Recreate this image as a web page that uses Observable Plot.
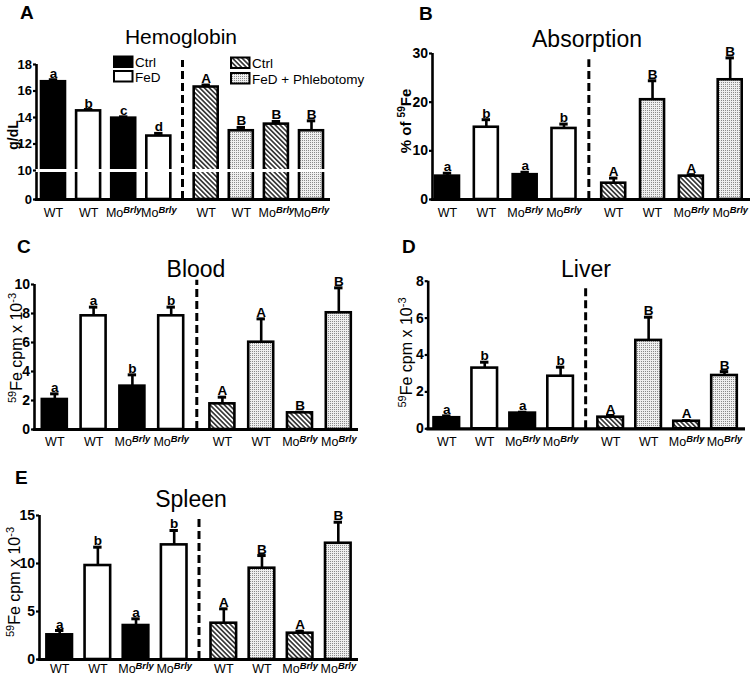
<!DOCTYPE html>
<html><head><meta charset="utf-8">
<script src="https://cdn.jsdelivr.net/npm/d3@7"></script>
<script src="https://cdn.jsdelivr.net/npm/@observablehq/plot@0.6"></script>
<style>
body{margin:0;background:#fff;}
#fig{position:relative;width:754px;height:681px;overflow:hidden;background:#fff;}
.panel{position:absolute;}
.panel svg{overflow:visible;}
</style></head><body>
<svg width="0" height="0" style="position:absolute">
<defs>
<pattern id="hatch" width="3.4" height="3.4" patternUnits="userSpaceOnUse" patternTransform="rotate(-45)">
<rect width="3.4" height="3.4" fill="#ffffff"/>
<rect width="1.7" height="3.4" fill="#3a3a3a"/>
</pattern>
<pattern id="dots" width="2" height="2" patternUnits="userSpaceOnUse">
<rect width="2" height="2" fill="#efefef"/>
<rect width="1" height="1" fill="#8a8a8a"/>
</pattern>
</defs>
</svg>
<div id="fig"></div>
<script>
// ---------- data ----------
const genotype   = ["WT","WT","MoBrly","MoBrly","WT","WT","MoBrly","MoBrly"];
const treatment  = ["Ctrl","FeD","Ctrl","FeD","Ctrl","FeD + Phlebotomy","Ctrl","FeD + Phlebotomy"];
const experiment = [1,1,1,1,2,2,2,2];

const hemoglobinMean    = [16.7, 14.5, 13.95, 12.6, 16.3, 13.0, 13.5, 13.0];
const hemoglobinSem     = [0.15, 0.1, 0.1, 0.2, 0.15, 0.25, 0.2, 0.75];
const hemoglobinLetters = ["a","b","c","d","A","B","B","B"];
const hemoglobinTicks   = [0,10,12,14,16,18];

const absorptionMean    = [4.8, 14.85, 5.1, 14.6, 3.35, 20.5, 4.8, 24.6];
const absorptionSem     = [0.6, 1.55, 0.5, 0.9, 1.05, 3.9, 0.3, 4.5];
const absorptionLetters = ["a","b","a","b","A","B","A","B"];
const absorptionTicks   = [0,10,20,30];

const bloodMean    = [2.07, 7.84, 2.99, 7.84, 1.77, 6.02, 1.15, 8.05];
const bloodSem     = [0.39, 0.6, 0.78, 0.6, 0.46, 1.61, 0.05, 1.72];
const bloodLetters = ["a","a","b","b","A","A","B","B"];
const bloodTicks   = [0,2,4,6,8,10];

const liverMean    = [0.6, 3.29, 0.85, 2.85, 0.63, 4.79, 0.41, 2.89];
const liverSem     = [0.1, 0.32, 0.05, 0.49, 0.09, 1.26, 0.04, 0.21];
const liverLetters = ["a","b","a","b","A","B","A","B"];
const liverTicks   = [0,2,4,6,8];

const spleenMean    = [2.57, 9.79, 3.54, 11.94, 3.78, 9.51, 2.74, 12.11];
const spleenSem     = [0.45, 1.91, 0.7, 1.5, 1.5, 1.32, 0.21, 2.19];
const spleenLetters = ["a","b","a","b","A","B","A","B"];
const spleenTicks   = [0,5,10,15];

const legendLeft  = ["Ctrl","FeD"];
const legendRight = ["Ctrl","FeD + Phlebotomy"];

// ---------- layout ----------
const FONT = '"Liberation Sans", Arial, Helvetica, sans-serif';
const cpmLabel = [["59",true],["Fe cpm x 10",false],["-3",true]];
// broken axis for panel A: 0-10 compressed, 10-18 full
const breakScale = 2.9 / 13.25;
const brokenAxis = v => v <= 10 ? v * breakScale : 10 * breakScale + (v - 10);

const panels = [
  {id:"A", title:"Hemoglobin", titleSize:21, mean:hemoglobinMean, sem:hemoglobinSem, letters:hemoglobinLetters, ticks:hemoglobinTicks,
   yLabel:[["g/dL",false]], ylBold:true, ylSize:14, ylX:18, ylY:135,
   left:0, top:0, width:377, height:225, axisL:36, axisR:330, c0:53, c7:311, gap:0.35, halfPx:12,
   yMin:0, yMax:18, yPx:[199,64], transform:brokenAxis, dashTop:18.3, breakAt:10, tickFont:13, xPad:9,
   letterX:20, letterY:18.5, titleX:181, titleY:44},
  {id:"B", title:"Absorption", titleSize:23, mean:absorptionMean, sem:absorptionSem, letters:absorptionLetters, ticks:absorptionTicks,
   yLabel:[["% of ",false],["59",true],["Fe",false]], ylBold:true, ylSize:15, ylX:411, ylY:121,
   left:377, top:0, width:377, height:225, axisL:432, axisR:750, c0:447, c7:729.7, gap:0.28, halfPx:12,
   yMin:0, yMax:30, yPx:[199,53], dashTop:28.7, tickFont:14, xPad:9,
   letterX:419, letterY:20, titleX:587, titleY:47},
  {id:"C", title:"Blood", titleSize:23, mean:bloodMean, sem:bloodSem, letters:bloodLetters, ticks:bloodTicks,
   yLabel:cpmLabel, ylBold:false, ylSize:16, ylX:21.5, ylY:348,
   left:0, top:225, width:377, height:228, axisL:34, axisR:358, c0:54.3, c7:338.3, gap:0.32, halfPx:12.5,
   yMin:0, yMax:10, yPx:[429,284], dashTop:10.3, tickFont:14, xPad:8,
   letterX:17, letterY:253, titleX:196, titleY:276.5},
  {id:"D", title:"Liver", titleSize:23, mean:liverMean, sem:liverSem, letters:liverLetters, ticks:liverTicks,
   yLabel:cpmLabel, ylBold:false, ylSize:16, ylX:411.5, ylY:352.5,
   left:377, top:225, width:377, height:228, axisL:427.7, axisR:745, c0:446.3, c7:724, gap:0.32, halfPx:12.8,
   yMin:0, yMax:8, yPx:[428.3,280.7], dashTop:7.77, tickFont:14, xPad:8.5,
   letterX:402, letterY:253, titleX:586, titleY:276.5},
  {id:"E", title:"Spleen", titleSize:23, mean:spleenMean, sem:spleenSem, letters:spleenLetters, ticks:spleenTicks,
   yLabel:cpmLabel, ylBold:false, ylSize:16, ylX:20, ylY:582,
   left:0, top:453, width:377, height:228, axisL:39, axisR:358, c0:59.2, c7:337.8, gap:0.3, halfPx:12.8,
   yMin:0, yMax:15, yPx:[659,515], dashTop:14.66, tickFont:14, xPad:5,
   letterX:15, letterY:483.5, titleX:191, titleY:507}
];

function fillFor(exp, trt) {
  if (exp === 1) return trt === "Ctrl" ? "black" : "white";
  return trt === "Ctrl" ? "url(#hatch)" : "url(#dots)";
}

const fig = document.getElementById("fig");

function addRichText(sel, parts, size) {
  const supSize = Math.round(size * 0.66);
  const shift = Math.round(size * 0.4);
  let raised = false;
  parts.forEach(([t, sup]) => {
    const ts = sel.append("tspan").text(t);
    if (sup && !raised) { ts.attr("font-size", supSize).attr("dy", -shift); raised = true; }
    else if (sup) { ts.attr("font-size", supSize); }
    else if (raised) { ts.attr("dy", shift); raised = false; }
  });
}

panels.forEach(p => {
  const unit = (p.c7 - p.c0) / (7 + p.gap);
  const pos = genotype.map((_, i) => i + (i >= 4 ? p.gap : 0));
  const lo = (p.axisL - p.c0) / unit;
  const hi = (p.axisR - p.c0) / unit;
  const hw = p.halfPx / unit;
  const cap = 4.2 / unit;
  const data = genotype.map((g, i) => ({
    pos: pos[i], mean: p.mean[i], top: p.mean[i] + p.sem[i], letter: p.letters[i],
    fill: fillFor(experiment[i], treatment[i])
  }));
  const dashX = 3.5 + p.gap / 2;
  const labelByPos = new Map(pos.map((x, i) => [x, genotype[i]]));
  const tf = p.transform || (v => v);
  // axis ticks are placed in scale space; label them with the original values
  const tickPos = p.ticks.map(tf);
  const tickLabel = new Map(p.ticks.map(t => [tf(t), String(t)]));
  const y0 = p.yPx[0];
  const marks = [
    Plot.ruleX(data, {x: "pos", y1: "mean", y2: "top", stroke: "black", strokeWidth: 2.6}),
    Plot.ruleY(data, {y: "top", x1: d => d.pos - cap, x2: d => d.pos + cap, stroke: "black", strokeWidth: 3}),
    Plot.rect(data, {x1: d => d.pos - hw, x2: d => d.pos + hw, y1: d => 0, y2: "mean", fill: "fill", stroke: "black", strokeWidth: 2.6}),
    Plot.ruleX([lo], {y1: p.yMin, y2: p.yMax, stroke: "black", strokeWidth: 2.6}),
    Plot.ruleY([0], {x1: lo - 1.3 / unit, x2: hi, stroke: "black", strokeWidth: 3.2})
  ];
  if (p.breakAt != null) {
    marks.push(Plot.ruleY([p.breakAt], {x1: lo - 2 / unit, x2: hi - 0.05, stroke: "white", strokeWidth: 3}));
  }
  marks.push(
    Plot.axisY({ticks: tickPos, tickSize: 3, tickPadding: 1.5, strokeWidth: 2.2, fontSize: p.tickFont, fontWeight: "bold", label: null, tickFormat: d => tickLabel.get(d)}),
    Plot.axisX({ticks: pos, tickFormat: d => labelByPos.get(d), tickSize: 0, tickPadding: p.xPad, fontSize: 12.5, label: null}),
    Plot.ruleX([dashX], {y1: 0, y2: p.dashTop, stroke: "black", strokeWidth: 3, strokeDasharray: "8,4"}),
    Plot.text(data, {x: "pos", y: "top", text: "letter", lineAnchor: "bottom", dy: -2, fontWeight: "bold", fontSize: 13.5})
  );
  const yScale = {domain: [tf(p.yMin), tf(p.yMax)], range: p.yPx.map(v => v - p.top)};
  if (p.transform) yScale.transform = p.transform;
  const plot = Plot.plot({
    width: p.width, height: p.height,
    marginLeft: p.axisL - p.left, marginRight: p.left + p.width - p.axisR,
    marginTop: p.yPx[1] - p.top, marginBottom: p.top + p.height - y0,
    x: {domain: [lo, hi]},
    y: yScale,
    color: {type: "identity"},
    style: {fontFamily: FONT, fontSize: "13px", color: "black", background: "white", overflow: "visible"},
    marks
  });
  const div = document.createElement("div");
  div.className = "panel";
  div.style.left = p.left + "px";
  div.style.top = p.top + "px";
  div.style.width = p.width + "px";
  div.style.height = p.height + "px";
  div.appendChild(plot);
  fig.appendChild(div);

  const svg = d3.select(plot);
  svg.selectAll('g[aria-label="x-axis tick label"] text').each(function () {
    const t = d3.select(this);
    if (t.text() === "MoBrly") {
      t.text("Mo");
      t.append("tspan").attr("dy", "-0.45em").attr("font-size", "0.75em").attr("font-style", "italic").attr("font-weight", "bold").text("Brly");
    }
  });
  const g = svg.append("g").attr("font-family", FONT).attr("fill", "black").attr("text-anchor", "start");
  g.append("text").attr("x", p.letterX - p.left).attr("y", p.letterY - p.top)
    .attr("font-size", 19).attr("font-weight", "bold").text(p.id);
  g.append("text").attr("x", p.titleX - p.left).attr("y", p.titleY - p.top)
    .attr("text-anchor", "middle").attr("font-size", p.titleSize).text(p.title);
  const yl = g.append("text")
    .attr("transform", `translate(${p.ylX - p.left},${p.ylY - p.top}) rotate(-90)`)
    .attr("text-anchor", "middle").attr("font-size", p.ylSize)
    .attr("font-weight", p.ylBold ? "bold" : "normal");
  addRichText(yl, p.yLabel, p.ylSize);

  if (p.id === "A") {
    const lg = g.append("g").attr("font-size", 13.5).attr("text-anchor", "start");
    const swatch = (x, y, fill) => lg.append("rect").attr("x", x).attr("y", y).attr("width", 18.5).attr("height", 10.5)
      .attr("fill", fill).attr("stroke", "black").attr("stroke-width", 2);
    swatch(114, 56.5, fillFor(1, legendLeft[0]));
    swatch(114, 71, fillFor(1, legendLeft[1]));
    lg.append("text").attr("x", 135).attr("y", 67).text(legendLeft[0]);
    lg.append("text").attr("x", 135).attr("y", 82).text(legendLeft[1]);
    swatch(231, 57.5, fillFor(2, legendRight[0]));
    swatch(231, 73, fillFor(2, legendRight[1]));
    lg.append("text").attr("x", 252).attr("y", 68).text(legendRight[0]);
    lg.append("text").attr("x", 252).attr("y", 84).text(legendRight[1]);
  }
});
</script>
</body></html>
